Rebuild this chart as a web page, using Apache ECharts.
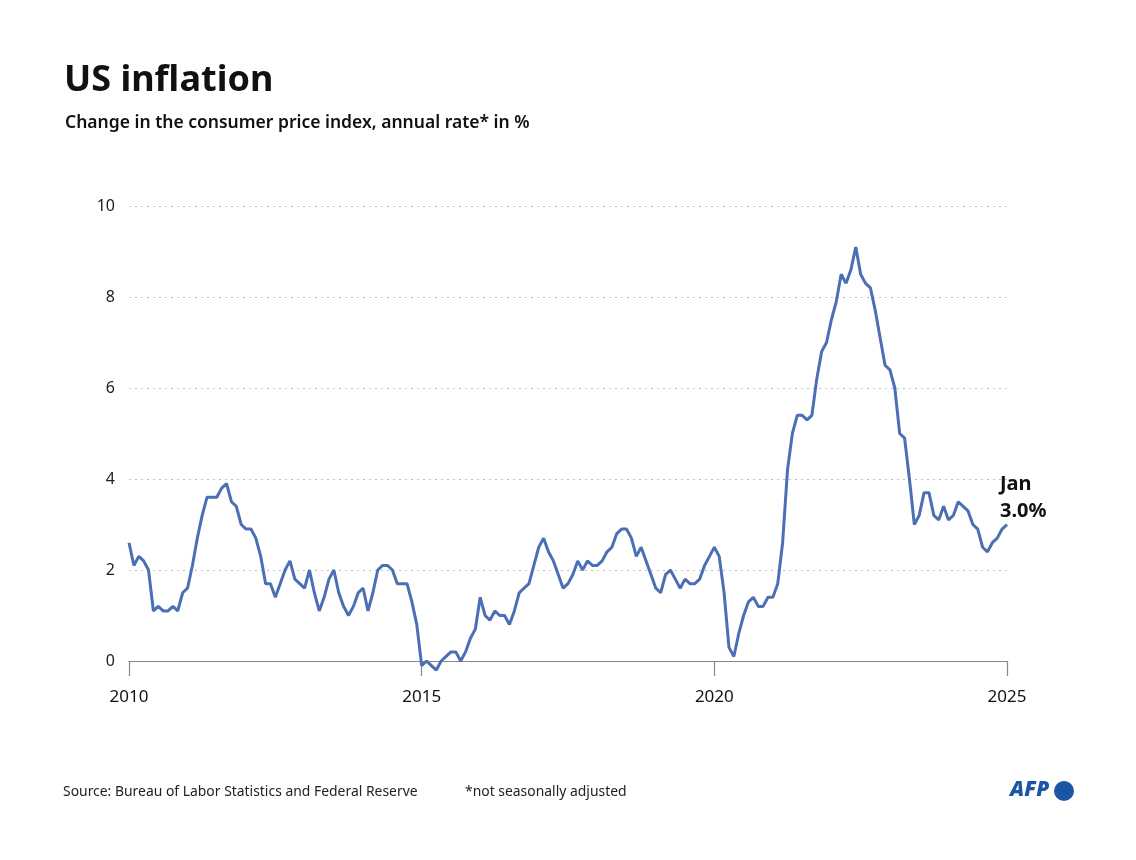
<!DOCTYPE html>
<html>
<head>
<meta charset="utf-8">
<title>US inflation</title>
<script src="https://cdn.jsdelivr.net/npm/echarts@6/dist/echarts.min.js"></script>
<style>
  html, body { margin: 0; padding: 0; background: #fff; }
  #chart { width: 1136px; height: 860px; }
</style>
</head>
<body>
<div id="chart"></div>
<script>
// CPI, change on a year earlier, %, monthly from Jan 2010
var startYear = 2010;
var cpi2010 = [2.6, 2.1, 2.3, 2.2, 2.0, 1.1, 1.2, 1.1, 1.1, 1.2, 1.1, 1.5];
var cpi2011 = [1.6, 2.1, 2.7, 3.2, 3.6, 3.6, 3.6, 3.8, 3.9, 3.5, 3.4, 3.0];
var cpi2012 = [2.9, 2.9, 2.7, 2.3, 1.7, 1.7, 1.4, 1.7, 2.0, 2.2, 1.8, 1.7];
var cpi2013 = [1.6, 2.0, 1.5, 1.1, 1.4, 1.8, 2.0, 1.5, 1.2, 1.0, 1.2, 1.5];
var cpi2014 = [1.6, 1.1, 1.5, 2.0, 2.1, 2.1, 2.0, 1.7, 1.7, 1.7, 1.3, 0.8];
var cpi2015 = [-0.1, 0.0, -0.1, -0.2, 0.0, 0.1, 0.2, 0.2, 0.0, 0.2, 0.5, 0.7];
var cpi2016 = [1.4, 1.0, 0.9, 1.1, 1.0, 1.0, 0.8, 1.1, 1.5, 1.6, 1.7, 2.1];
var cpi2017 = [2.5, 2.7, 2.4, 2.2, 1.9, 1.6, 1.7, 1.9, 2.2, 2.0, 2.2, 2.1];
var cpi2018 = [2.1, 2.2, 2.4, 2.5, 2.8, 2.9, 2.9, 2.7, 2.3, 2.5, 2.2, 1.9];
var cpi2019 = [1.6, 1.5, 1.9, 2.0, 1.8, 1.6, 1.8, 1.7, 1.7, 1.8, 2.1, 2.3];
var cpi2020 = [2.5, 2.3, 1.5, 0.3, 0.1, 0.6, 1.0, 1.3, 1.4, 1.2, 1.2, 1.4];
var cpi2021 = [1.4, 1.7, 2.6, 4.2, 5.0, 5.4, 5.4, 5.3, 5.4, 6.2, 6.8, 7.0];
var cpi2022 = [7.5, 7.9, 8.5, 8.3, 8.6, 9.1, 8.5, 8.3, 8.2, 7.7, 7.1, 6.5];
var cpi2023 = [6.4, 6.0, 5.0, 4.9, 4.0, 3.0, 3.2, 3.7, 3.7, 3.2, 3.1, 3.4];
var cpi2024 = [3.1, 3.2, 3.5, 3.4, 3.3, 3.0, 2.9, 2.5, 2.4, 2.6, 2.7, 2.9];
var cpi2025 = [3.0];

var yTicks = [0, 2, 4, 6, 8, 10];
var xTicks = [2010, 2015, 2020, 2025];

var allValues = [].concat(cpi2010, cpi2011, cpi2012, cpi2013, cpi2014, cpi2015,
  cpi2016, cpi2017, cpi2018, cpi2019, cpi2020, cpi2021, cpi2022, cpi2023,
  cpi2024, cpi2025);

var seriesData = [];
for (var i = 0; i < allValues.length; i++) {
  seriesData.push([startYear + i / 12, allValues[i]]);
}
var lastVal = allValues[allValues.length - 1];

var font = 'Noto Sans';
var footFont = 'Noto Sans';
var myChart = echarts.init(document.getElementById('chart'));
var option = {
  backgroundColor: '#fff',
  animation: false,
  title: [
    {
      text: 'US inflation',
      left: 59, top: 58,
      textStyle: { fontFamily: font, fontWeight: 'bold', fontSize: 36, color: '#111' }
    },
    {
      text: 'Change in the consumer price index, annual rate* in %',
      left: 60, top: 109,
      textStyle: { fontFamily: font, fontWeight: 600, fontSize: 17.5, color: '#111' }
    }
  ],
  grid: { left: 129, right: 129, top: 206, bottom: 199 },
  xAxis: {
    type: 'value',
    min: xTicks[0],
    max: xTicks[xTicks.length - 1],
    interval: 5,
    axisLine: { show: true, lineStyle: { color: '#888', width: 1.2 } },
    axisTick: { show: true, length: 15, lineStyle: { color: '#888', width: 1.2 } },
    axisLabel: {
      margin: 28,
      fontFamily: font, fontSize: 17, color: '#111',
      formatter: function (v) { return String(v); }
    },
    splitLine: { show: false }
  },
  yAxis: {
    type: 'value',
    min: yTicks[0],
    max: yTicks[yTicks.length - 1],
    interval: 2,
    axisLine: { show: false },
    axisTick: { show: false },
    axisLabel: {
      margin: 14,
      fontFamily: font, fontSize: 16, color: '#222',
      padding: [0, 0, 6, 0]
    },
    splitLine: {
      show: true,
      lineStyle: { color: '#bdbdbd', type: [2, 4], width: 1 }
    }
  },
  series: [
    {
      type: 'line',
      data: seriesData,
      clip: false,
      symbol: 'none',
      smooth: false,
      lineStyle: { color: '#4a6fb5', width: 3 },
      itemStyle: { color: '#4a6fb5' },
      endLabel: {
        show: true,
        distance: 0,
        offset: [-7, -27],
        align: 'left',
        formatter: function () { return 'Jan\n' + lastVal.toFixed(1) + '%'; },
        fontFamily: font,
        fontWeight: 'bold',
        fontSize: 20,
        lineHeight: 27,
        color: '#111'
      },
      z: 3
    }
  ],
  graphic: [
    {
      type: 'text', left: 63, top: 784, scaleX: 0.927,
      style: {
        text: 'Source: Bureau of Labor Statistics and Federal Reserve',
        fontFamily: footFont, fontSize: 15, fill: '#222'
      }
    },
    {
      type: 'text', left: 465, top: 784, scaleX: 0.927,
      style: {
        text: '*not seasonally adjusted',
        fontFamily: footFont, fontSize: 15, fill: '#222'
      }
    },
    {
      type: 'text', left: 1010, top: 780,
      style: {
        text: 'AFP', fontFamily: 'Noto Sans', fontWeight: 900, fontStyle: 'italic',
        fontSize: 21, fill: '#1b55a6'
      }
    },
    {
      type: 'circle', shape: { cx: 1064, cy: 791, r: 10 },
      style: { fill: '#1b55a6' }
    }
  ]
};
myChart.setOption(option);
window.addEventListener('resize', function () {
  myChart.resize();
});
</script>
</body>
</html>
